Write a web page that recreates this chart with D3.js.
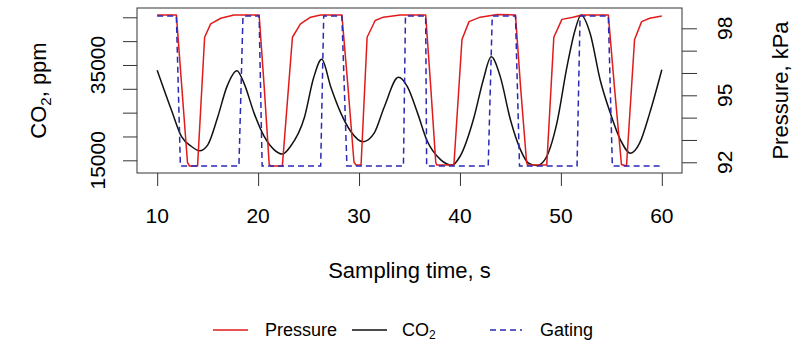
<!DOCTYPE html>
<html>
<head>
<meta charset="utf-8">
<script src="https://cdn.jsdelivr.net/npm/d3@7"></script>
<style>
  body { margin: 0; background: #fff; }
  svg { font-family: "Liberation Sans", Arial, sans-serif; }
</style>
</head>
<body>
<div id="chart"></div>
<script>
// Data
const co2Time = [10.0, 11.4, 12.4, 13.4, 14.2, 15.0, 16.0, 16.9, 17.9, 18.6, 19.6, 20.6, 21.6, 22.4, 23.2, 24.6, 25.5, 26.3,
    27.2, 28.2, 29.2, 30.4, 31.5, 32.5, 33.9, 34.8, 35.8, 36.7, 38.1, 39.2, 40.0, 41.4, 42.3, 43.1, 44.0, 45.0, 46.0,
    46.8, 47.6, 48.4, 49.6, 50.6, 51.4, 52.0, 52.9, 53.9, 54.9, 55.9, 56.9, 57.8, 58.8, 60.0];
const co2Ppm = [33900, 25600, 20000, 17900, 17000, 18200, 24100, 30400, 33800, 31200, 24900, 20000, 17200, 16300, 17900, 24100, 32300, 36200,
    30400, 24900, 21000, 18900, 20700, 26200, 32400, 30400, 24900, 19300, 15100, 14000, 15800, 24100, 31800, 36700, 32500, 23500, 17200,
    14400, 13900, 15100, 22800, 34600, 42300, 45500, 41600, 31800, 24900, 19300, 16500, 18600, 24900, 34000];

const pressureTime = [10.0, 11.9, 12.4, 13.0, 13.2, 14.0, 14.7, 15.3, 16.3, 17.6, 20.1, 20.6, 21.1, 21.3, 22.4, 23.4, 24.2, 25.2, 26.2,
    28.3, 28.9, 29.5, 29.7, 30.2, 30.8, 31.6, 32.4, 34.1, 36.6, 37.1, 37.6, 37.7, 39.4, 40.2, 40.9, 42.0, 43.7,
    45.5, 46.0, 46.6, 46.7, 48.6, 49.3, 50.1, 51.2, 52.1, 54.7, 55.3, 56.0, 56.5, 57.3, 58.0, 58.8, 60.0];
const pressureKpa = [98.6, 98.6, 95.6, 92.0, 91.83, 91.83, 97.6, 98.2, 98.45, 98.6, 98.6, 95.4, 91.9, 91.83, 91.83, 97.6, 98.2, 98.5, 98.6,
    98.6, 95.4, 92.0, 91.88, 91.88, 97.6, 98.35, 98.5, 98.6, 98.6, 95.4, 92.0, 91.88, 91.88, 97.5, 98.3, 98.5, 98.62,
    98.6, 95.4, 92.0, 91.88, 91.88, 97.6, 98.4, 98.5, 98.6, 98.6, 95.4, 91.9, 91.83, 97.5, 98.3, 98.45, 98.55];

const gatingTime = [10, 11.9, 12.3, 18.1, 18.5, 20.1, 20.4, 26.2, 26.5, 28.3, 28.8, 34.4, 34.6, 36.6, 36.7, 42.8, 43.2,
    45.5, 45.9, 51.6, 51.9, 54.7, 55.1, 60];
const gatingState = [1, 1, 0, 0, 1, 1, 0, 0, 1, 1, 0, 0, 1, 1, 0, 0, 1, 1, 0, 0, 1, 1, 0, 0];

const xTicks = [10, 20, 30, 40, 50, 60];
const co2Ticks = [15000, 20000, 25000, 30000, 35000, 40000, 45000];
const co2Labels = [15000, 35000];
const pressureTicks = [92, 93, 94, 95, 96, 97, 98];
const pressureLabels = [92, 95, 98];

// Layout
const W = 808, H = 341;
const box = { left: 137, right: 682, top: 8, bottom: 173 };

const svg = d3.select('#chart').append('svg')
    .attr('width', W)
    .attr('height', H);

// Scales
const x = d3.scaleLinear().domain([8, 62]).range([box.left, box.right]);
const yC = d3.scaleLinear().domain([12340, 46950]).range([box.bottom, box.top]);
const yP = d3.scaleLinear().domain([91.52, 98.91]).range([box.bottom, box.top]);
const yG = d3.scaleLinear().domain([0, 1]).range([yP(91.83), yP(98.55)]);

svg.append('clipPath').attr('id', 'clip')
    .append('rect')
    .attr('x', box.left).attr('y', box.top)
    .attr('width', box.right - box.left).attr('height', box.bottom - box.top);

const plot = svg.append('g').attr('clip-path', 'url(#clip)');

// CO2 line
const co2Data = co2Time.map((t, i) => [t, co2Ppm[i]]);
plot.append('path')
    .datum(co2Data)
    .attr('fill', 'none')
    .attr('stroke', '#111')
    .attr('stroke-width', 1.5)
    .attr('d', d3.line().x(d => x(d[0])).y(d => yC(d[1])).curve(d3.curveMonotoneX));

// Pressure line
const pressureData = pressureTime.map((t, i) => [t, pressureKpa[i]]);
plot.append('path')
    .datum(pressureData)
    .attr('fill', 'none')
    .attr('stroke', '#e01b1b')
    .attr('stroke-width', 1.5)
    .attr('stroke-linejoin', 'round')
    .attr('d', d3.line().x(d => x(d[0])).y(d => yP(d[1])));

// Gating line
const gatingData = gatingTime.map((t, i) => [t, gatingState[i]]);
plot.append('path')
    .datum(gatingData)
    .attr('fill', 'none')
    .attr('stroke', '#2a2ab4')
    .attr('stroke-width', 1.5)
    .attr('stroke-dasharray', '6,4')
    .attr('d', d3.line().x(d => x(d[0])).y(d => yG(d[1])));

// Box
svg.append('rect')
    .attr('x', box.left).attr('y', box.top)
    .attr('width', box.right - box.left).attr('height', box.bottom - box.top)
    .attr('fill', 'none')
    .attr('stroke', '#333')
    .attr('stroke-width', 1);

// Axes (tick marks only)
const tickStyle = g => {
    g.select('.domain').remove();
    g.selectAll('line').attr('stroke', '#333');
};
svg.append('g')
    .attr('transform', `translate(0,${box.bottom})`)
    .call(d3.axisBottom(x).tickValues(xTicks).tickSize(13).tickFormat(''))
    .call(tickStyle);
svg.append('g')
    .attr('transform', `translate(${box.left},0)`)
    .call(d3.axisLeft(yC).tickValues(co2Ticks).tickSize(14).tickFormat(''))
    .call(tickStyle);
svg.append('g')
    .attr('transform', `translate(${box.right},0)`)
    .call(d3.axisRight(yP).tickValues(pressureTicks).tickSize(15).tickFormat(''))
    .call(tickStyle);

// Tick labels
svg.selectAll('.xlab')
    .data(xTicks).join('text')
    .attr('x', d => x(d))
    .attr('y', 223)
    .attr('text-anchor', 'middle')
    .style('font-size', '21px')
    .text(d => d);

svg.selectAll('.clab')
    .data(co2Labels).join('text')
    .attr('transform', d => `translate(105,${yC(d)}) rotate(-90)`)
    .attr('text-anchor', 'middle')
    .style('font-size', '21px')
    .text(d => d);

svg.selectAll('.plab')
    .data(pressureLabels).join('text')
    .attr('transform', d => `translate(732,${yP(d)}) rotate(-90)`)
    .attr('text-anchor', 'middle')
    .style('font-size', '21px')
    .text(d => d);

// Axis titles
const midY = (box.top + box.bottom) / 2;
svg.append('text')
    .attr('x', (box.left + box.right) / 2)
    .attr('y', 278)
    .attr('text-anchor', 'middle')
    .style('font-size', '22px')
    .text('Sampling time, s');

const co2Title = svg.append('text')
    .attr('transform', `translate(46,${midY}) rotate(-90)`)
    .attr('text-anchor', 'middle')
    .style('font-size', '22px');
co2Title.append('tspan').text('CO');
co2Title.append('tspan').attr('dy', 5).style('font-size', '15px').text('2');
co2Title.append('tspan').attr('dy', -5).text(', ppm');

svg.append('text')
    .attr('transform', `translate(788,${midY}) rotate(-90)`)
    .attr('text-anchor', 'middle')
    .style('font-size', '22px')
    .text('Pressure, kPa');

// Legend
const legendY = 330;
const legend = svg.append('g');
const items = [
    { name: 'Pressure', color: '#e01b1b', dash: null, x0: 213, x1: 248, tx: 265 },
    { name: 'CO', color: '#111', dash: null, x0: 352, x1: 387, tx: 402, sub: '2' },
    { name: 'Gating', color: '#2a2ab4', dash: '6,4', x0: 490, x1: 522, tx: 540 }
];
items.forEach(it => {
    legend.append('line')
        .attr('x1', it.x0).attr('x2', it.x1)
        .attr('y1', legendY).attr('y2', legendY)
        .attr('stroke', it.color)
        .attr('stroke-width', 1.5)
        .attr('stroke-dasharray', it.dash);
    const t = legend.append('text')
        .attr('x', it.tx)
        .attr('y', legendY + 6)
        .style('font-size', '18px')
        .text(it.name);
    if (it.sub) t.append('tspan').attr('dy', 3).style('font-size', '12px').text(it.sub);
});
</script>
</body>
</html>
